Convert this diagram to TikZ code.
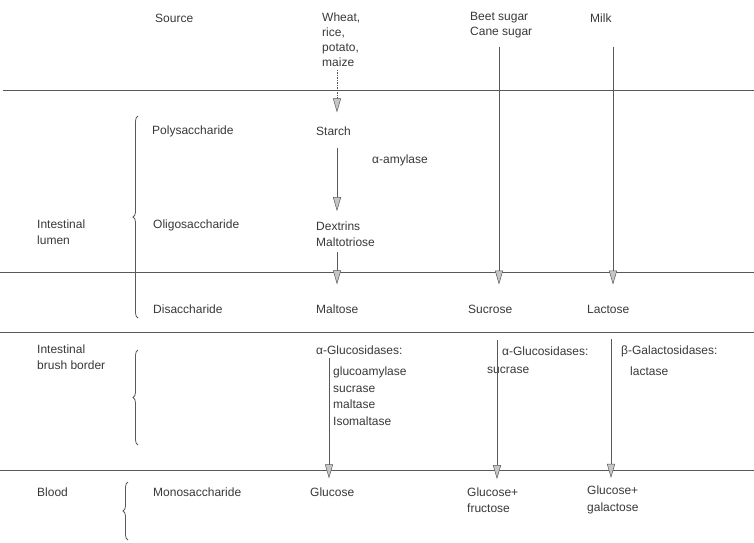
\documentclass[tikz,border=0pt]{standalone}
\usepackage{fontspec}
\setmainfont{Liberation Sans}
\usetikzlibrary{arrows.meta,decorations.pathreplacing}
\definecolor{ink}{gray}{0.22}
\definecolor{rule}{gray}{0.35}
\tikzset{
  lbl/.style={anchor=west,inner sep=0pt,text=ink,font=\fontsize{12}{16.5}\selectfont,align=left},
  tight/.style={font=\fontsize{12}{15}\selectfont},
  hrule/.style={draw=rule,line width=0.7pt},
  flow/.style={draw=rule,line width=0.6pt,-{Triangle[length=14pt,width=8pt,fill=gray!45,color=rule,line width=0.5pt]}},
  brc/.style={draw=rule,line width=0.8pt,decorate,decoration={brace,amplitude=5pt}}
}
\begin{document}
\begin{tikzpicture}[x=1pt,y=-1pt]
\useasboundingbox (0,0) rectangle (754,542);
% horizontal rules
\draw[hrule] (3,90) -- (754,90);
\draw[hrule] (0,272) -- (754,272);
\draw[hrule] (0,332) -- (754,332);
\draw[hrule] (0,470) -- (754,470);
% column coordinates
\coordinate (cA) at (337,0);
\coordinate (cG) at (329,0);
\coordinate (cS) at (499,0);
\coordinate (cS2) at (497,0);
\coordinate (cM) at (613,0);
\coordinate (cM2) at (611,0);
% source row
\node[lbl] (source) at (155,18) {Source};
\node[lbl,tight] (wheat) at (322,40) {Wheat,\\rice,\\potato,\\maize};
\node[lbl,tight] (beet) at (470,25) {Beet sugar\\Cane sugar};
\node[lbl] (milk) at (590,18) {Milk};
% lumen
\node[lbl] (poly) at (152,131) {Polysaccharide};
\node[lbl] (starch) at (316,131) {Starch};
\node[lbl] (amyl) at (372,160) {α-amylase};
\node[lbl] (lumen) at (37,232) {Intestinal\\lumen};
\node[lbl] (oligo) at (153,225) {Oligosaccharide};
\node[lbl] (dextrins) at (316,234) {Dextrins\\Maltotriose};
\node[lbl] (disacc) at (153,309) {Disaccharide};
\node[lbl] (maltose) at (316,309) {Maltose};
\node[lbl] (sucrose) at (468,309) {Sucrose};
\node[lbl] (lactose) at (587,309) {Lactose};
% brush border
\node[lbl] (brush) at (37,357) {Intestinal\\brush border};
\node[lbl] (aglu) at (316,350) {α-Glucosidases:};
\node[lbl] (list) at (333,396) {glucoamylase\\sucrase\\maltase\\Isomaltase};
\node[lbl] (aglub) at (502,351) {α-Glucosidases:};
\node[lbl] (sucrase) at (487,370) {sucrase};
\node[lbl] (bgal) at (621,351) {β-Galactosidases:};
\node[lbl] (lactase) at (630,371) {lactase};
% blood
\node[lbl] (blood) at (37,492) {Blood};
\node[lbl] (mono) at (153,492) {Monosaccharide};
\node[lbl] (glucose) at (310,492) {Glucose};
\node[lbl] (gf) at (467,500) {Glucose+\\fructose};
\node[lbl] (gg) at (587,500) {Glucose+\\galactose};
% braces
\draw[brc] (138,318) -- (138,116);
\draw[brc] (138,445) -- (138,350);
\draw[brc] (128,540) -- (128,482);
% arrows
\draw[flow,dash pattern=on 1.5pt off 1pt] ([yshift=-2.5pt]wheat.south -| cA) -- ([yshift=14pt]starch.north -| cA);
\draw[flow] ([yshift=-12pt]starch.south -| cA) -- ([yshift=10pt]dextrins.north -| cA);
\draw[flow] ([yshift=-5pt]dextrins.south -| cA) -- ([yshift=20pt]maltose.north -| cA);
\draw[flow] ([yshift=-8.5pt]beet.south -| cS) -- ([yshift=20pt]sucrose.north -| cS);
\draw[flow] ([yshift=-24pt]milk.south -| cM) -- ([yshift=20pt]lactose.north -| cM);
\draw[flow] ([yshift=-3pt]aglu.south -| cG) -- ([yshift=9pt]glucose.north -| cG);
\draw[flow] ([yshift=6pt]aglub.north -| cS2) -- ([yshift=8pt]gf.north -| cS2);
\draw[flow] ([yshift=6pt]bgal.north -| cM2) -- ([yshift=8pt]gg.north -| cM2);
\end{tikzpicture}
\end{document}
